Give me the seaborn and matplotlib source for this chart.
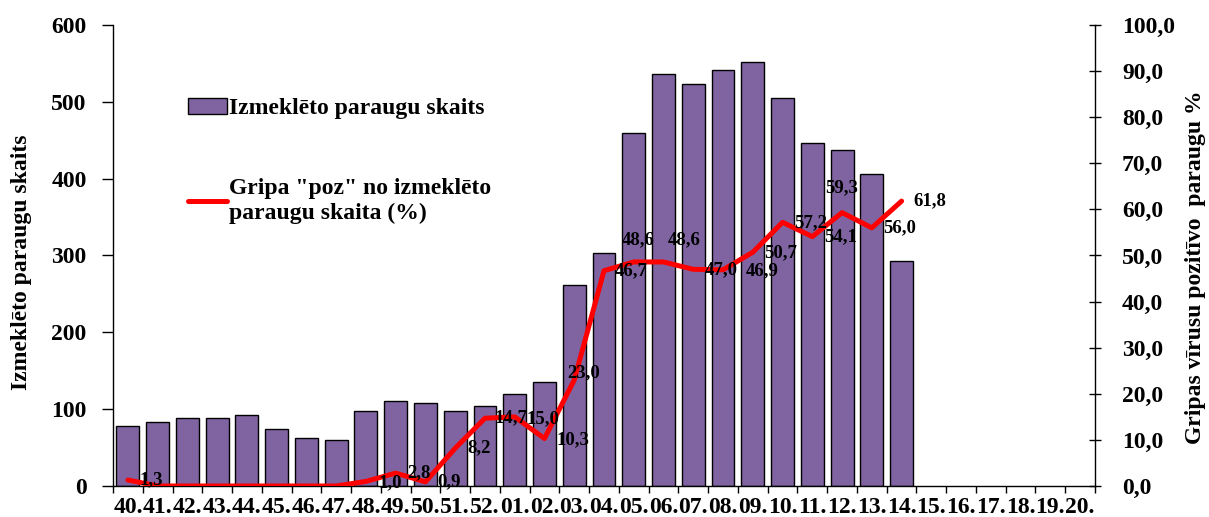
import numpy as np
import pandas as pd
import matplotlib
matplotlib.use("Agg")
import matplotlib.pyplot as plt
from matplotlib.patches import Patch
from matplotlib.lines import Line2D
from matplotlib.ticker import FixedLocator, FuncFormatter
import seaborn as sns

# weeks of the season (40. .. 52., 01. .. 20.)
weeks = [f"{w}." for w in range(40, 53)] + [f"{w:02d}." for w in range(1, 21)]

# number of tested samples per week (only weeks 40.-14. reported)
samples = [78, 83, 88, 88, 93, 74, 62, 60, 98, 110, 108, 98, 104,
           120, 136, 261, 303, 459, 536, 523, 541, 552, 505, 447, 437, 406, 293]
samples_weeks = weeks[:len(samples)]

# share of influenza positive samples, %
positive_pct = [1.3, 0, 0, 0, 0, 0, 0, 0, 1.0, 2.8, 0.9, 8.2, 14.7,
                15.0, 10.3, 23.0, 46.7, 48.6, 48.6, 47.0, 46.9, 50.7, 57.2, 54.1, 59.3, 56.0, 61.8]

# label offsets (pixels, x right / y up) for the line values
label_offsets = [(23, 0), None, None, None, None, None, None, None, (24, -1), (23, 0), (24, 0), (24, 0), (26, 0),
                 (28, -2), (28, -1), (9, 7), (27, 0), (4, 22), (21, 22), (28, 0), (39, -1), (28, 0), (28, 0),
                 (28, 0), (0, 25), (28, 0), (28, 0)]

bar_color = "#8064A2"

sns.set_theme(style="white")
plt.rcParams["font.family"] = ["Liberation Serif", "DejaVu Serif"]
plt.rcParams["font.weight"] = "bold"
plt.rcParams["text.color"] = "black"
plt.rcParams["axes.labelcolor"] = "black"
plt.rcParams["xtick.color"] = "black"
plt.rcParams["ytick.color"] = "black"

fig = plt.figure(figsize=(12.09, 5.17), dpi=100)
ax = fig.add_axes([113 / 1209, 1 - 486 / 517, 982 / 1209, 461 / 517])

df = pd.DataFrame({"week": samples_weeks, "count": samples})
sns.barplot(data=df, x="week", y="count", order=weeks, color=bar_color,
            saturation=1, width=0.77, edgecolor="black", linewidth=1, ax=ax)

ax.set_xlim(-0.5, len(weeks) - 0.5)
ax.set_ylim(0, 600)
ax.set_yticks(range(0, 601, 100))
ax.set_xlabel("")
ax.set_ylabel("Izmeklēto paraugu skaits", fontsize=17, fontweight="bold")
ax.yaxis.set_label_coords(-0.082, 0.486)

# category boundaries as tick marks, labels in the middle
ax.set_xticks(np.arange(len(weeks)))
ax.set_xticklabels(weeks, fontsize=17, fontweight="bold")
ax.tick_params(axis="x", which="major", length=0, pad=8)
ax.xaxis.set_minor_locator(FixedLocator(np.arange(len(weeks) + 1) - 0.5))
ax.tick_params(axis="x", which="minor", length=5, width=1, direction="out", color="black", bottom=True)
ax.tick_params(axis="y", length=8, width=1, direction="out", pad=11, labelsize=17, left=True)
for lab in ax.get_yticklabels():
    lab.set_fontweight("bold")

for s in ["top", "right"]:
    ax.spines[s].set_visible(False)
for s in ["left", "bottom"]:
    ax.spines[s].set_color("black")
    ax.spines[s].set_linewidth(1)

ax2 = ax.twinx()
x_pos = np.arange(len(positive_pct))
sns.lineplot(x=x_pos, y=positive_pct, color="red", linewidth=3.6, ax=ax2)
ax2.set_ylim(0, 100)
ax2.set_yticks(range(0, 101, 10))
ax2.yaxis.set_major_formatter(FuncFormatter(lambda v, p: f"{v:.1f}".replace(".", ",")))
ax2.tick_params(axis="y", length=9, width=1, direction="inout", pad=15, labelsize=17, right=True)
for lab in ax2.get_yticklabels():
    lab.set_fontweight("bold")
ax2.set_ylabel("Gripas vīrusu pozitīvo  paraugu %", fontsize=17, fontweight="bold", rotation=90)
ax2.yaxis.set_label_coords(1.092, 0.475)
for s in ["top", "left", "bottom"]:
    ax2.spines[s].set_visible(False)
ax2.spines["right"].set_color("black")
ax2.spines["right"].set_linewidth(1)

for xi, val, off in zip(x_pos, positive_pct, label_offsets):
    if off is None:
        continue
    ax2.annotate(f"{val:.1f}".replace(".", ","), (xi, val),
                 xytext=(off[0] * 0.72, off[1] * 0.72), textcoords="offset points",
                 ha="center", va="center", fontsize=13.5, fontweight="bold", color="black")

handles = [Patch(facecolor=bar_color, edgecolor="black", linewidth=1),
           Line2D([0], [0], color="red", linewidth=3.6)]
labels = ["Izmeklēto paraugu skaits", "Gripa \"poz\" no izmeklēto\nparaugu skaita (%)"]
leg = ax2.legend(handles, labels, loc="upper left", bbox_to_anchor=(0.076, 0.842),
                 frameon=False, fontsize=17, handlelength=1.65, handletextpad=0.12,
                 labelspacing=2.5, borderpad=0, borderaxespad=0)
for t in leg.get_texts():
    t.set_fontweight("bold")

fig.savefig("out.png", dpi=100)
